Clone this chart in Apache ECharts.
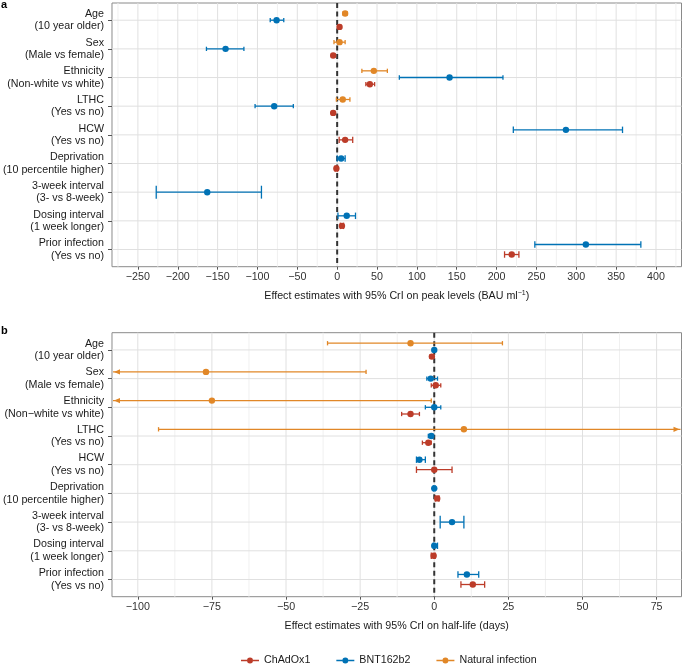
<!DOCTYPE html>
<html>
<head>
<meta charset="utf-8">
<script src="https://cdn.jsdelivr.net/npm/echarts@6/dist/echarts.min.js"></script>
<style>html,body{margin:0;padding:0;background:#fff;}#c{width:683px;height:665px;}</style>
</head>
<body>
<div id="c"></div>
<script>
// ---------- data ----------
const categoriesA = ['Age\n(10 year older)', 'Sex\n(Male vs female)', 'Ethnicity\n(Non-white vs white)', 'LTHC\n(Yes vs no)', 'HCW\n(Yes vs no)', 'Deprivation\n(10 percentile higher)', '3-week interval\n(3- vs 8-week)', 'Dosing interval\n(1 week longer)', 'Prior infection\n(Yes vs no)'];
const categoriesB = ['Age\n(10 year older)', 'Sex\n(Male vs female)', 'Ethnicity\n(Non\u2212white vs white)', 'LTHC\n(Yes vs no)', 'HCW\n(Yes vs no)', 'Deprivation\n(10 percentile higher)', '3-week interval\n(3- vs 8-week)', 'Dosing interval\n(1 week longer)', 'Prior infection\n(Yes vs no)'];
const seriesNames = ['ChAdOx1', 'BNT162b2', 'Natural infection'];

// Panel a: peak levels (BAU/ml)
const peakChAdOx1Est = [3, -5, 41, -5, 10, -1, null, 6, 219];
const peakChAdOx1Lo  = [1, -7, 36, -7, 2.5, -2.5, null, 4, 210];
const peakChAdOx1Hi  = [5, -3, 47, -3, 19.5, 0.5, null, 8, 228];
const peakBNTEst = [-76, -140, 141, -79, 287, 5, -163, 12, 312];
const peakBNTLo  = [-84, -164, 78, -103, 221, 0, -227, 1, 248];
const peakBNTHi  = [-67, -117, 208, -55, 358, 10, -95, 23, 381];
const peakNatEst = [10, 3, 46, 7, null, null, null, null, null];
const peakNatLo  = [7.5, -4, 31, -1, null, null, null, null, null];
const peakNatHi  = [12.5, 10, 63, 16, null, null, null, null, null];

// Panel b: half-life (days)
const hlChAdOx1Est = [-0.8, 0.5, -8, -2, 0, 1, null, -0.2, 13];
const hlChAdOx1Lo  = [-1.5, -1, -11, -4, -6, 0.4, null, -1, 9];
const hlChAdOx1Hi  = [-0.2, 2.2, -5, -1, 6, 1.6, null, 0.3, 17];
const hlBNTEst = [0, -1.2, 0, -1, -5, 0, 6, 0, 11];
const hlBNTLo  = [-0.3, -2.5, -3, -2, -6, -0.3, 2, -0.3, 8];
const hlBNTHi  = [0.3, 1.1, 2.2, -0.3, -3, 0.3, 10, 1.1, 15];
const hlNatEst = [-8, -77, -75, 10, null, null, null, null, null];
const hlNatLo  = [-36, -131, -149, -93, null, null, null, null, null];
const hlNatHi  = [23, -23, -1, 113, null, null, null, null, null];

// ticks
const peakMajorTicks = [-250, -200, -150, -100, -50, 0, 50, 100, 150, 200, 250, 300, 350, 400];
const peakMinorTicks = [-275, -225, -175, -125, -75, -25, 25, 75, 125, 175, 225, 275, 325, 375, 425];
const hlMajorTicks = [-100, -75, -50, -25, 0, 25, 50, 75];
const hlMinorTicks = [-87.5, -62.5, -37.5, -12.5, 12.5, 37.5, 62.5];
const catTicks = [0, 1, 2, 3, 4, 5, 6, 7, 8];

// ---------- styling ----------
const COLORS = {'ChAdOx1': '#BC3C29', 'BNT162b2': '#0072B5', 'Natural infection': '#E18727'};
const DODGE_ORDER = ['Natural infection', 'BNT162b2', 'ChAdOx1']; // top to bottom
const FONT = 'Liberation Sans, Arial, Helvetica, sans-serif';

const panels = [
  {
    'ChAdOx1': {est: peakChAdOx1Est, lo: peakChAdOx1Lo, hi: peakChAdOx1Hi},
    'BNT162b2': {est: peakBNTEst, lo: peakBNTLo, hi: peakBNTHi},
    'Natural infection': {est: peakNatEst, lo: peakNatLo, hi: peakNatHi}
  },
  {
    'ChAdOx1': {est: hlChAdOx1Est, lo: hlChAdOx1Lo, hi: hlChAdOx1Hi},
    'BNT162b2': {est: hlBNTEst, lo: hlBNTLo, hi: hlBNTHi},
    'Natural infection': {est: hlNatEst, lo: hlNatLo, hi: hlNatHi}
  }
];

function minusFmt(v) { return v < 0 ? '\u2212' + Math.abs(v) : String(v); }

function pointRangeSeries(pi, name) {
  const d = panels[pi][name];
  const data = [];
  d.est.forEach((v, i) => { if (v != null) data.push([v, i, d.lo[i], d.hi[i]]); });
  const color = COLORS[name];
  return {
    type: 'custom', name: name, xAxisIndex: pi, yAxisIndex: pi, z: 10,
    itemStyle: {color: color},
    encode: {x: 0, y: 1},
    data: data,
    renderItem: function (params, api) {
      const est = api.value(0), cat = api.value(1), lo = api.value(2), hi = api.value(3);
      const present = DODGE_ORDER.filter(nm => panels[pi][nm].est[cat] != null);
      const n = present.length, k = present.indexOf(name);
      const off = -0.35 + 0.7 * (k + 0.5) / n;
      const p = api.coord([est, cat + off]);
      const pl = api.coord([lo, cat + off]);
      const ph = api.coord([hi, cat + off]);
      const cs = params.coordSys;
      const x0 = cs.x, x1 = cs.x + cs.width;
      const capH = Math.abs(api.size([0, 0.45 / n])[1]) / 2;
      const y = p[1];
      const ls = {stroke: color, lineWidth: 1.3};
      const children = [];
      const xa = Math.max(pl[0], x0 + 1), xb = Math.min(ph[0], x1 - 1);
      children.push({type: 'line', shape: {x1: xa, y1: y, x2: xb, y2: y}, style: ls});
      if (pl[0] >= x0) {
        children.push({type: 'line', shape: {x1: pl[0], y1: y - capH, x2: pl[0], y2: y + capH}, style: ls});
      } else {
        children.push({type: 'polygon', shape: {points: [[x0 + 2, y], [x0 + 8, y - 2.6], [x0 + 8, y + 2.6]]}, style: {fill: color}});
      }
      if (ph[0] <= x1) {
        children.push({type: 'line', shape: {x1: ph[0], y1: y - capH, x2: ph[0], y2: y + capH}, style: ls});
      } else {
        children.push({type: 'polygon', shape: {points: [[x1 - 2, y], [x1 - 8, y - 2.6], [x1 - 8, y + 2.6]]}, style: {fill: color}});
      }
      children.push({type: 'circle', shape: {cx: p[0], cy: y, r: 3.2}, style: {fill: color}});
      return {type: 'group', children: children};
    }
  };
}

function vGridSeries(pi, ticks, color) {
  return {
    type: 'custom', xAxisIndex: pi, yAxisIndex: pi, z: 1, silent: true,
    data: ticks.map(v => [v, 0]),
    renderItem: function (params, api) {
      const cs = params.coordSys;
      const x = api.coord([api.value(0), 0])[0];
      return {type: 'line', shape: {x1: x, y1: cs.y, x2: x, y2: cs.y + cs.height}, style: {stroke: color, lineWidth: 1}};
    }
  };
}
function hGridSeries(pi, color) {
  return {
    type: 'custom', xAxisIndex: pi, yAxisIndex: pi, z: 1, silent: true,
    data: catTicks.map(v => [0, v]),
    encode: {x: 0, y: 1},
    renderItem: function (params, api) {
      const cs = params.coordSys;
      const y = api.coord([0, api.value(1)])[1];
      return {type: 'line', shape: {x1: cs.x, y1: y, x2: cs.x + cs.width, y2: y}, style: {stroke: color, lineWidth: 1}};
    }
  };
}
function zeroLineSeries(pi) {
  return {
    type: 'custom', xAxisIndex: pi, yAxisIndex: pi, z: 5, silent: true,
    data: [[0, 0]],
    renderItem: function (params, api) {
      const cs = params.coordSys;
      const x = api.coord([api.value(0), 0])[0];
      return {type: 'line', shape: {x1: x, y1: cs.y, x2: x, y2: cs.y + cs.height}, style: {stroke: '#333333', lineWidth: 2, lineDash: [5, 3.5]}};
    }
  };
}

function xAxisCfg(pi, min, max, ticks, nameText, gap) {
  return {
    type: 'value', gridIndex: pi, min: min, max: max, position: 'bottom',
    axisLine: {show: false, onZero: false},
    axisTick: {show: true, customValues: ticks, length: 3, lineStyle: {color: '#555', width: 1}},
    axisLabel: {customValues: ticks, formatter: minusFmt, color: '#333', fontSize: 10.7, fontFamily: FONT, margin: 5},
    splitLine: {show: false},
    name: nameText, nameLocation: 'middle', nameGap: gap,
    nameTextStyle: {color: '#1a1a1a', fontSize: 10.7, fontFamily: FONT,
      rich: {sup: {fontSize: 7, fontFamily: FONT, color: '#1a1a1a', verticalAlign: 'top', padding: [0, 0, 6, 0]}}}
  };
}
function yAxisCfg(pi, cats) {
  return {
    type: 'value', gridIndex: pi, min: -0.6, max: 8.6, inverse: true, position: 'left',
    axisLine: {show: false, onZero: false},
    axisTick: {show: true, customValues: catTicks, length: 4, lineStyle: {color: '#555', width: 1}},
    axisLabel: {customValues: catTicks, formatter: v => cats[Math.round(v)], color: '#1a1a1a', fontSize: 10.7,
      fontFamily: FONT, lineHeight: 12.5, align: 'right', margin: 8},
    splitLine: {show: false}
  };
}

const legendIcon = 'path://M0,5.5 L12,5.5 L12,8.5 L0,8.5 Z M24,5.5 L36,5.5 L36,8.5 L24,8.5 Z M12,7 A6,6 0 1 1 24,7 A6,6 0 1 1 12,7 Z';

const option = {
  animation: false,
  backgroundColor: '#ffffff',
  textStyle: {fontFamily: FONT},
  grid: [
    {left: 110, top: 3, width: 571.5, height: 263.7, show: true, borderColor: '#8a8a8a', borderWidth: 1, backgroundColor: 'transparent'},
    {left: 110, top: 332.7, width: 571.5, height: 264, show: true, borderColor: '#8a8a8a', borderWidth: 1, backgroundColor: 'transparent'}
  ],
  xAxis: [
    xAxisCfg(0, -282.5, 432, peakMajorTicks, 'Effect estimates with 95% CrI on peak levels (BAU ml{sup|\u22121})', 23),
    xAxisCfg(1, -108.7, 83.4, hlMajorTicks, 'Effect estimates with 95% CrI on half-life (days)', 24)
  ],
  yAxis: [yAxisCfg(0, categoriesA), yAxisCfg(1, categoriesB)],
  legend: {
    data: seriesNames, icon: legendIcon, itemWidth: 18, itemHeight: 7, itemGap: 26,
    left: 241, top: 655, selectedMode: false, padding: 0,
    textStyle: {fontSize: 10.7, color: '#1a1a1a', fontFamily: FONT}
  },
  graphic: [
    {type: 'text', left: 1, top: -1, style: {text: 'a', font: 'bold 11px ' + FONT, fill: '#000'}},
    {type: 'text', left: 1, top: 325, style: {text: 'b', font: 'bold 11px ' + FONT, fill: '#000'}}
  ],
  series: [
    vGridSeries(0, peakMinorTicks, '#f0f0f0'), vGridSeries(0, peakMajorTicks, '#e0e0e0'), hGridSeries(0, '#e0e0e0'), zeroLineSeries(0),
    vGridSeries(1, hlMinorTicks, '#f0f0f0'), vGridSeries(1, hlMajorTicks, '#e0e0e0'), hGridSeries(1, '#e0e0e0'), zeroLineSeries(1),
    pointRangeSeries(0, 'Natural infection'), pointRangeSeries(0, 'BNT162b2'), pointRangeSeries(0, 'ChAdOx1'),
    pointRangeSeries(1, 'Natural infection'), pointRangeSeries(1, 'BNT162b2'), pointRangeSeries(1, 'ChAdOx1')
  ]
};

const chart = echarts.init(document.getElementById('c'), null, {renderer: 'canvas'});
chart.setOption(option);
</script>
</body>
</html>
